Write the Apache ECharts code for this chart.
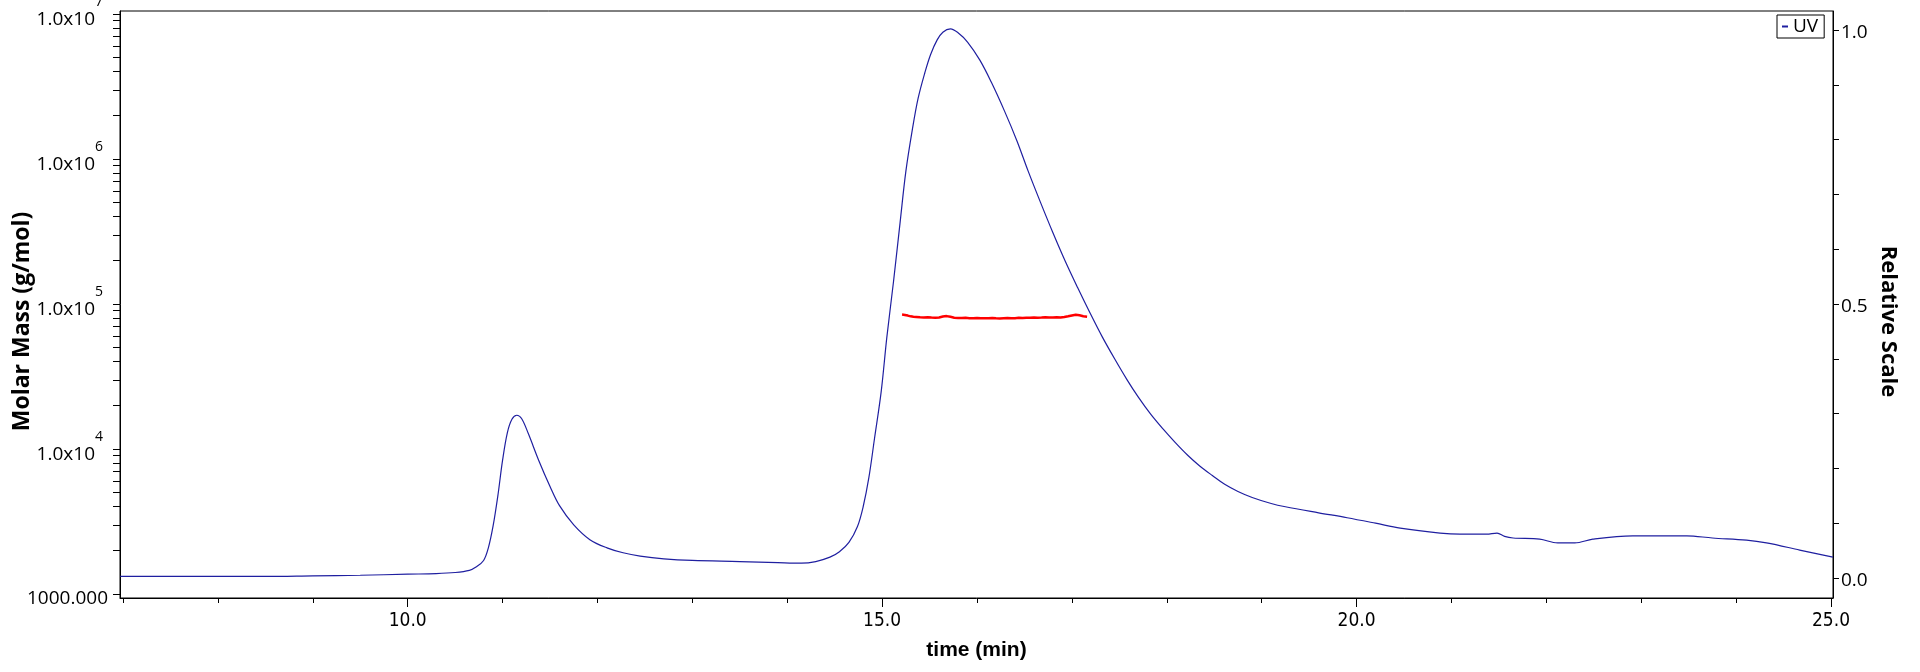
<!DOCTYPE html>
<html>
<head>
<meta charset="utf-8">
<script src="https://cdn.jsdelivr.net/npm/echarts@6/dist/echarts.min.js"></script>
<style>
html,body{margin:0;padding:0;background:#fff;}
#chart{width:1920px;height:672px;}
</style>
</head>
<body>
<div id="chart"></div>
<script>
// ---- UV trace (relative scale, right axis) ----
const uvTime = [6.97,7.5,8.0,8.5,9.0,9.5,10.0,10.3,10.5,10.65,10.72,10.80,10.85,10.90,10.95,11.00,11.05,11.10,11.15,11.20,11.27,11.38,11.50,11.60,11.75,11.92,12.10,12.27,12.45,12.7,13.0,13.5,13.9,14.15,14.3,14.45,14.55,14.65,14.74,14.80,14.86,14.92,14.99,15.05,15.12,15.19,15.25,15.32,15.38,15.45,15.51,15.58,15.64,15.72,15.80,15.90,16.03,16.15,16.29,16.42,16.54,16.67,16.80,16.93,17.06,17.19,17.32,17.45,17.58,17.70,17.83,17.96,18.09,18.22,18.35,18.48,18.61,18.75,18.9,19.1,19.25,19.6,19.9,20.2,20.46,20.88,21.09,21.37,21.48,21.56,21.65,21.93,22.12,22.30,22.49,22.91,23.27,23.48,23.75,24.11,24.32,24.67,25.02];
const uvValue = [0.003,0.003,0.003,0.003,0.004,0.005,0.007,0.008,0.010,0.014,0.020,0.032,0.055,0.095,0.150,0.215,0.265,0.290,0.297,0.291,0.264,0.215,0.167,0.132,0.097,0.070,0.055,0.046,0.040,0.035,0.032,0.030,0.028,0.027,0.030,0.038,0.048,0.065,0.094,0.130,0.183,0.255,0.340,0.440,0.541,0.650,0.742,0.820,0.876,0.922,0.955,0.982,0.996,1.002,0.995,0.978,0.945,0.905,0.852,0.798,0.742,0.685,0.630,0.578,0.530,0.484,0.440,0.400,0.362,0.330,0.299,0.272,0.247,0.224,0.204,0.187,0.171,0.158,0.147,0.136,0.130,0.119,0.110,0.100,0.091,0.082,0.080,0.080,0.082,0.076,0.073,0.071,0.064,0.064,0.071,0.077,0.077,0.077,0.073,0.069,0.064,0.051,0.038];

// ---- Molar mass trace (g/mol, left log axis) ----
const massTime = [15.21,15.24,15.27,15.30,15.33,15.36,15.40,15.44,15.48,15.52,15.56,15.60,15.64,15.68,15.72,15.76,15.80,15.84,15.88,15.92,15.96,16.00,16.04,16.08,16.12,16.16,16.20,16.24,16.28,16.32,16.36,16.40,16.44,16.48,16.52,16.56,16.60,16.64,16.68,16.72,16.76,16.80,16.84,16.88,16.92,16.96,17.00,17.04,17.08,17.12,17.16];
const massValue = [84500,84000,83200,82200,81800,81500,81000,80700,80900,80600,80400,80800,81900,82500,81600,80500,80200,80000,80300,79900,79700,80100,79800,79600,79900,80200,79700,79500,79800,80000,79600,79900,80300,80100,80500,80300,80700,80400,80600,80900,80600,80800,81000,80700,81300,82300,83400,84200,83600,82300,81800];

// ---- axis ticks / labels ----
const timeMajorTicks = [10, 15, 20, 25];
const timeMinorTicks = [7,8,9,10,11,12,13,14,15,16,17,18,19,20,21,22,23,24,25];
const massBaseExponent = 3;               // "1000.000"
const massPowerExponents = [4, 5, 6, 7];  // "1.0x10" with superscript n
const massMinorMultipliers = [1,2,3,4,5,6,7,8,9];
const relLabels = [0, 0.5, 1.0];
const relTicks = [0,0.1,0.2,0.3,0.4,0.5,0.6,0.7,0.8,0.9,1.0];

const massMin = 938.4, massMax = 1.0489e7;
const timeMin = 6.968, timeMax = 25.021;
const relMin = -0.0365, relMax = 1.0347;

const logMin = Math.log10(massMin), logMax = Math.log10(massMax);
const massTickExp = [];
[3,4,5,6,7].forEach(function (e) {
  massMinorMultipliers.forEach(function (m) {
    const v = Math.log10(m * Math.pow(10, e));
    if (v <= logMax + 1e-9) massTickExp.push(v);
  });
});

const uvData = uvTime.map(function (t, i) { return [t, uvValue[i]]; });
const massData = massTime.map(function (t, i) { return [t, massValue[i]]; });

const tickFont = "'Open Sans', 'Noto Sans', sans-serif";
function hiddenAxis(extra) {
  return Object.assign({
    axisLine: {show: false, onZero: false}, axisTick: {show: false}, splitLine: {show: false}
  }, extra);
}
const chart = echarts.init(document.getElementById('chart'), null, {renderer: 'canvas'});
chart.setOption({
  animation: false,
  backgroundColor: '#ffffff',
  grid: {left: 120, right: 87, top: 11, bottom: 74, show: true, borderColor: '#000', borderWidth: 1,
    backgroundColor: 'transparent', containLabel: false, outerBoundsMode: 'none'},
  legend: {
    data: [{name: 'UV', icon: 'rect'}],
    left: 1777, top: 15,
    orient: 'horizontal',
    itemWidth: 6, itemHeight: 2, itemGap: 5,
    padding: [2, 6, 2, 5],
    borderColor: '#000', borderWidth: 1, borderRadius: 0,
    backgroundColor: '#fff',
    textStyle: {fontFamily: tickFont, fontSize: 19, color: '#000'}
  },
  xAxis: [{
    type: 'value', min: timeMin, max: timeMax, position: 'bottom',
    name: 'time (min)', nameLocation: 'middle', nameGap: 42,
    nameTextStyle: {fontFamily: "'Liberation Sans', Arial, sans-serif", fontWeight: 'bold', fontSize: 21, color: '#000'},
    axisLine: {show: true, onZero: false, lineStyle: {color: '#000', width: 1}},
    axisTick: {show: true, customValues: timeMinorTicks, length: 5, lineStyle: {color: '#000'}},
    axisLabel: {show: true, customValues: timeMajorTicks, margin: 14, color: '#000',
      fontFamily: "'Liberation Sans Narrow', 'DejaVu Sans Condensed', sans-serif", fontSize: 19,
      formatter: function (v) { return v.toFixed(1); }},
    splitLine: {show: false}
  }, hiddenAxis({
    type: 'value', min: timeMin, max: timeMax, position: 'bottom',
    axisTick: {show: true, customValues: timeMajorTicks, length: 9, lineStyle: {color: '#000'}},
    axisLabel: {show: false}
  })],
  yAxis: [hiddenAxis({
    // data axis for molar mass (log scale)
    type: 'log', min: massMin, max: massMax, position: 'left', axisLabel: {show: false}
  }), {
    // frame line and ticks of the molar-mass axis (decimal exponent space)
    type: 'value', min: logMin, max: logMax, position: 'left',
    name: 'Molar Mass (g/mol)', nameLocation: 'middle', nameGap: 86, nameRotate: 90,
    nameTextStyle: {fontFamily: "'Open Sans', sans-serif", fontWeight: 'bold', fontSize: 23, color: '#000', padding: [0, 34, 0, 0]},
    axisLine: {show: true, onZero: false, lineStyle: {color: '#000', width: 1}},
    axisTick: {show: true, customValues: massTickExp, length: 7, lineStyle: {color: '#000'}},
    axisLabel: {show: false},
    splitLine: {show: false}
  }, hiddenAxis({
    // "1000.000"
    type: 'value', min: logMin, max: logMax, position: 'left',
    axisLabel: {show: true, customValues: [massBaseExponent], margin: 12, color: '#000',
      fontFamily: tickFont, fontSize: 19, verticalAlign: 'top', lineHeight: 9,
      formatter: function () { return '1000.000'; }}
  }), hiddenAxis({
    // "1.0x10" mantissas
    type: 'value', min: logMin, max: logMax, position: 'left',
    axisLabel: {show: true, customValues: massPowerExponents, margin: 25, color: '#000',
      fontFamily: tickFont, fontSize: 19, verticalAlign: 'top', lineHeight: 11,
      formatter: function () { return '1.0x10'; }}
  }), hiddenAxis({
    // superscript exponents
    type: 'value', min: logMin, max: logMax, position: 'left',
    axisLabel: {show: true, customValues: massPowerExponents, margin: 17, color: '#000',
      fontFamily: tickFont, fontSize: 14, verticalAlign: 'bottom', lineHeight: 24,
      formatter: function (v) { return String(Math.round(v)); }}
  }), {
    type: 'value', min: relMin, max: relMax, position: 'right',
    name: 'Relative Scale', nameLocation: 'middle', nameGap: 44, nameRotate: -90,
    nameTextStyle: {fontFamily: "'Open Sans', sans-serif", fontWeight: 'bold', fontSize: 22, color: '#000', padding: [0, 0, 0, 34]},
    axisLine: {show: true, onZero: false, lineStyle: {color: '#000', width: 1}},
    axisTick: {show: true, customValues: relTicks, length: 6, lineStyle: {color: '#000'}},
    axisLabel: {show: false},
    splitLine: {show: false}
  }, hiddenAxis({
    type: 'value', min: relMin, max: relMax, position: 'right',
    axisLabel: {show: true, customValues: relLabels, margin: 8, color: '#000', fontFamily: tickFont, fontSize: 19,
      verticalAlign: 'top', lineHeight: 6,
      formatter: function (v) { return (Math.round(v * 10) / 10).toFixed(1); }}
  })],
  series: [{
    name: 'UV', type: 'line', xAxisIndex: 0, yAxisIndex: 5,
    data: uvData, showSymbol: false, symbol: 'none', smooth: 0.35,
    lineStyle: {color: '#1f1fa0', width: 1.2},
    itemStyle: {color: '#1f1fa0'},
    z: 2
  }, {
    name: 'Molar Mass', type: 'line', xAxisIndex: 0, yAxisIndex: 0,
    data: massData, showSymbol: false, symbol: 'none',
    lineStyle: {color: '#ff0000', width: 2.5},
    itemStyle: {color: '#ff0000'},
    z: 3
  }]
});
</script>
</body>
</html>
